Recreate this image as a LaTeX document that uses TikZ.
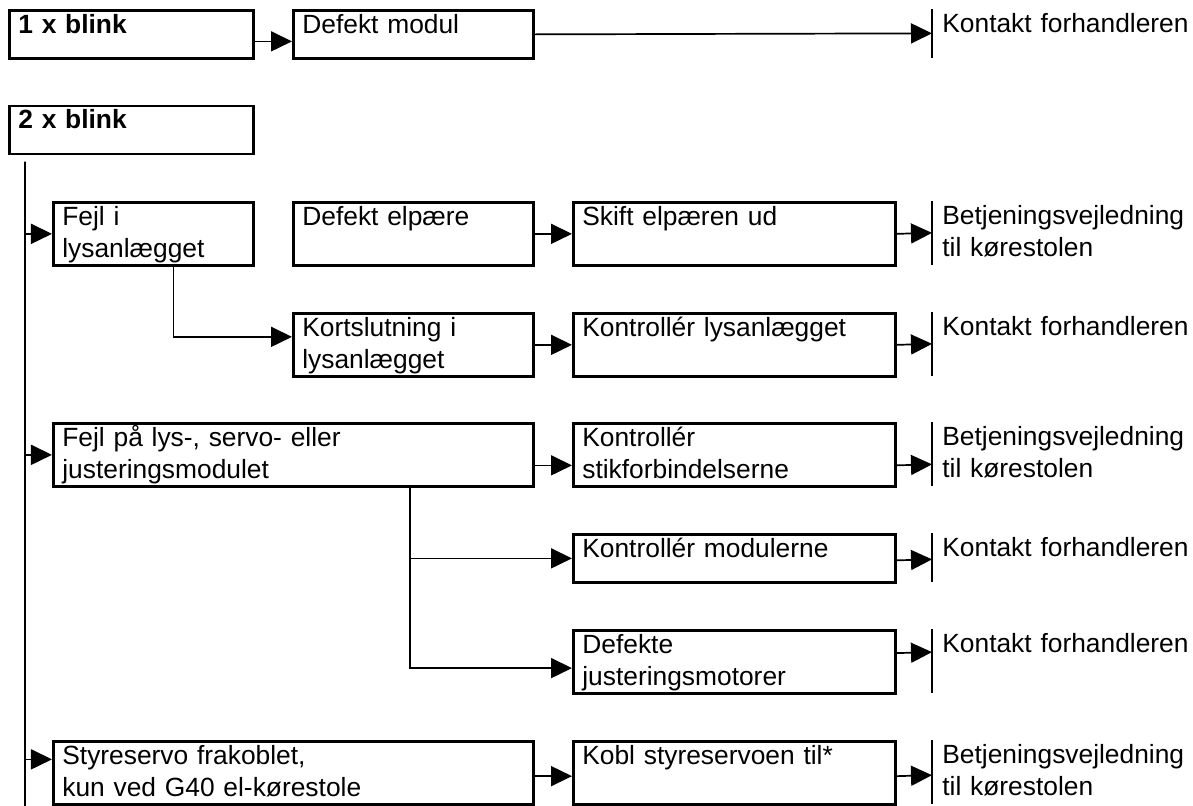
\documentclass[tikz,border=0pt]{standalone}
\usepackage{fontspec}
\setmainfont{Liberation Sans}
\usepackage{tikz}
\usetikzlibrary{arrows.meta}
\usetikzlibrary{positioning}
\tikzset{
    mybox/.style = {rectangle, draw=black, line width=0.54mm, anchor=north west, align=left, inner xsep=1.8mm, inner ysep=0pt, text height=4.6mm, text depth=8mm},
    myboxl/.style = {mybox, text depth=5mm},
    myend/.style = {rectangle, anchor=north west, align=left, inner xsep=2mm, inner ysep=0pt, text width=50mm, text height=4.6mm, text depth=8mm},
    myendl/.style = {myend, text depth=5mm},
}
\begin{document}
\begin{tikzpicture}[
	x=0.2mm, y=-0.2mm,
	font=\fontsize{15}{18.5}\selectfont
]
\tikzset{
    edgea/.style = {-{Triangle[length=4.2mm,width=4mm]}, line width=0.34mm},
    edgen/.style = {-, line width=0.34mm},
    edgeb/.style = {-, line width=0.46mm},
}
\useasboundingbox (0,0) rectangle (1193,806);
% 1 x blink
\node[myboxl, text width=45.2mm] at (8,9) (b1) {\textbf{1 x blink}};
\node[myboxl, text width=44.4mm] at (292,9) (dm) {Defekt modul};
\node[myendl] at (932,9) (e0) {Kontakt forhandleren};
% 2 x blink
\node[myboxl, text width=45.2mm] at (8,104.5) (b2) {\textbf{2 x blink}};
\node[mybox, text width=36.4mm] at (52,201) (fl) {Fejl i\\lysanlægget};
\node[mybox, text width=44.4mm] at (292,201) (de) {Defekt elpære};
\node[mybox, text width=60.8mm] at (572,201) (sk) {Skift elpæren ud};
\node[myend] at (932,201) (e1) {Betjeningsvejledning\\til kørestolen};
\node[mybox, text width=44.4mm] at (292,312) (ks) {Kortslutning i\\lysanlægget};
\node[mybox, text width=60.8mm] at (572,312) (kl) {Kontrollér lysanlægget};
\node[myend] at (932,312) (e2) {Kontakt forhandleren};
\node[mybox, text width=92.4mm] at (52,422) (fp) {Fejl på lys-, servo- eller\\justeringsmodulet};
\node[mybox, text width=60.8mm] at (572,422) (kst) {Kontrollér\\stikforbindelserne};
\node[myend] at (932,422) (e3) {Betjeningsvejledning\\til kørestolen};
\node[myboxl, text width=60.8mm] at (572,533) (km) {Kontrollér modulerne};
\node[myendl] at (932,533) (e4) {Kontakt forhandleren};
\node[mybox, text width=60.8mm] at (572,629) (dj) {Defekte\\justeringsmotorer};
\node[myend] at (932,629) (e5) {Kontakt forhandleren};
\node[mybox, text width=92.4mm] at (52,740) (ss) {Styreservo frakoblet,\\kun ved G40 el-kørestole};
\node[mybox, text width=60.8mm] at (572,740) (kb) {Kobl styreservoen til*};
\node[myend] at (932,740) (e6) {Betjeningsvejledning\\til kørestolen};
%
\coordinate (trunk) at ([xshift=3.4mm,yshift=-1.3mm]b2.south west);
\coordinate (bot) at (25,806);
\coordinate (fork) at ([xshift=23.3mm]fp.south);
\coordinate (t6) at ([yshift=2.7mm]ss.west);
%
\foreach \i in {0,...,6}
    \draw[edgeb] (e\i.north west) -- (e\i.south west);
%
\draw[edgea] ([yshift=-1.4mm]b1.east) -- ([yshift=-1.4mm]dm.west);
\draw[edgea] (dm.east) -- (e0.west);
%
\draw[edgen] (trunk) -- (bot);
\draw[edgea] (trunk |- fl.west) -- (fl.west);
\draw[edgea] (trunk |- fp.west) -- (fp.west);
\draw[edgea] (trunk |- t6) -- (t6);
%
\draw[edgea] (de.east) -- (sk.west);
\draw[edgea] (sk.east) -- (e1.west);
\draw[edgea] ([xshift=4mm]fl.south) |- ([yshift=1.6mm]ks.west);
\draw[edgea] (ks.east) -- (kl.west);
\draw[edgea] (kl.east) -- (e2.west);
%
\draw[edgea] ([yshift=-2.1mm]fp.east) -- ([yshift=-2.1mm]kst.west);
\draw[edgea] ([yshift=-2.1mm]kst.east) -- ([yshift=-2.1mm]e3.west);
\draw[edgea] (fork) |- ([yshift=-1.25mm]dj.west);
\draw[edgea] (fork |- km.west) -- (km.west);
\draw[edgea] ([yshift=-0.4mm]km.east) -- ([yshift=-0.4mm]e4.west);
\draw[edgea] ([yshift=1.75mm]dj.east) -- ([yshift=1.75mm]e5.west);
%
\draw[edgea] ([yshift=-0.66mm]ss.east) -- ([yshift=-0.66mm]kb.west);
\draw[edgea] ([yshift=-0.66mm]kb.east) -- ([yshift=-0.66mm]e6.west);
\end{tikzpicture}
\end{document}
